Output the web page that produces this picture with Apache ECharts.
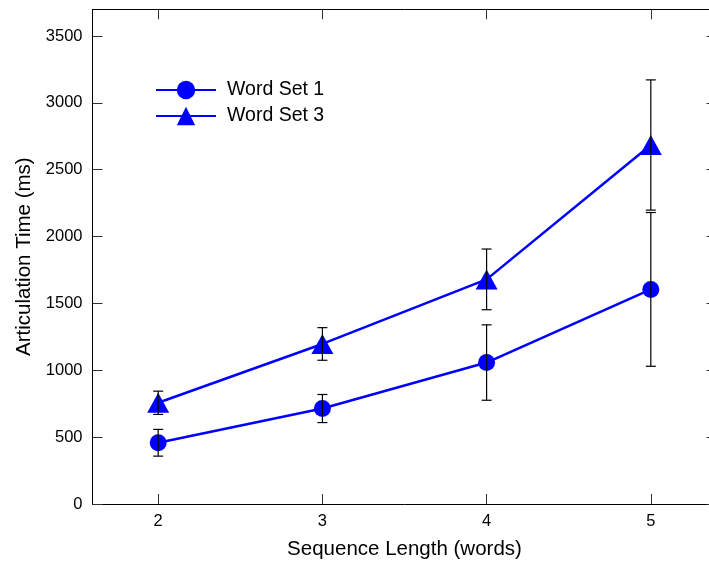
<!DOCTYPE html>
<html>
<head>
<meta charset="utf-8">
<script src="https://cdn.jsdelivr.net/npm/echarts@6/dist/echarts.min.js"></script>
<style>
  html, body { margin: 0; padding: 0; background: #fff; overflow: hidden; }
  #chart { width: 720px; height: 565px; }
</style>
</head>
<body>
<div id="chart"></div>
<script>
// Sequence lengths (words)
const seqLengths = [2, 3, 4, 5];
// Mean articulation time (ms) and error half-widths
const wordSet1 = [458, 714, 1058, 1605];
const wordSet1Err = [100, 105, 282, 575];
const wordSet3 = [757, 1197, 1680, 2685];
const wordSet3Err = [87, 122, 227, 487];
// Tick values
const xTicks = [2, 3, 4, 5];
const yTicks = [0, 500, 1000, 1500, 2000, 2500, 3000, 3500];

const FONT = '"Liberation Sans", Arial, sans-serif';
const BLUE = '#0000ff';

function pairs(xs, ys) { return xs.map((x, i) => [x, ys[i]]); }
function errRows(xs, ys, es) { return xs.map((x, i) => [x, ys[i] - es[i], ys[i] + es[i]]); }

function errorBarItem(params, api) {
  const x = api.value(0);
  const lo = api.coord([x, api.value(1)]);
  const hi = api.coord([x, api.value(2)]);
  const cap = 5;
  const style = { stroke: '#000', lineWidth: 1.2 };
  return {
    type: 'group',
    children: [
      { type: 'line', shape: { x1: lo[0], y1: lo[1], x2: hi[0], y2: hi[1] }, style },
      { type: 'line', shape: { x1: lo[0] - cap, y1: lo[1], x2: lo[0] + cap, y2: lo[1] }, style },
      { type: 'line', shape: { x1: hi[0] - cap, y1: hi[1], x2: hi[0] + cap, y2: hi[1] }, style }
    ]
  };
}

const axisLine = { show: true, onZero: false, lineStyle: { color: '#000', width: 1 } };
const tickStyle = { show: true, inside: true, length: 10, lineStyle: { color: '#333', width: 1 } };

const chart = echarts.init(document.getElementById('chart'), null, { renderer: 'canvas' });
chart.setOption({
  animation: false,
  backgroundColor: '#fff',
  // the frame's right side sits just past the visible area
  grid: { left: 92.5, right: 3.5, top: 9.3, bottom: 60.3, containLabel: false },
  legend: {
    orient: 'vertical',
    left: 155,
    top: 80,
    padding: 0,
    itemWidth: 60,
    itemHeight: 23,
    itemGap: 6,
    data: ['Word Set 1', 'Word Set 3'],
    textStyle: { fontFamily: FONT, fontSize: 19.5, color: '#000', padding: [0, 0, 0, 6] }
  },
  xAxis: [
    {
      type: 'value', min: 1.6, max: 5.4, position: 'bottom',
      name: 'Sequence Length (words)', nameLocation: 'middle', nameGap: 35,
      nameTextStyle: { fontFamily: FONT, fontSize: 20.5, color: '#000' },
      axisLine,
      axisTick: Object.assign({ customValues: xTicks }, tickStyle),
      axisLabel: { customValues: xTicks, margin: 9, fontFamily: FONT, fontSize: 16.5, color: '#000' },
      splitLine: { show: false }
    },
    {
      type: 'value', min: 1.6, max: 5.4, position: 'top',
      axisLine,
      axisTick: Object.assign({ customValues: xTicks }, tickStyle),
      axisLabel: { show: false },
      splitLine: { show: false }
    }
  ],
  yAxis: [
    {
      type: 'value', min: 0, max: 3700, position: 'left',
      name: 'Articulation Time (ms)', nameLocation: 'middle', nameGap: 58,
      nameTextStyle: { fontFamily: FONT, fontSize: 20.5, color: '#000' },
      axisLine,
      axisTick: Object.assign({ customValues: yTicks }, tickStyle),
      axisLabel: {
        customValues: yTicks, margin: 10, fontFamily: FONT, fontSize: 16.5, color: '#000',
        formatter: v => String(v)
      },
      splitLine: { show: false }
    },
    {
      type: 'value', min: 0, max: 3700, position: 'right',
      axisLine,
      axisTick: Object.assign({ customValues: yTicks }, tickStyle),
      axisLabel: { show: false },
      splitLine: { show: false }
    }
  ],
  series: [
    {
      name: 'Word Set 1', type: 'line', data: pairs(seqLengths, wordSet1),
      symbol: 'circle', symbolSize: 17,
      lineStyle: { color: BLUE, width: 2.5 }, itemStyle: { color: BLUE },
      z: 3
    },
    {
      name: 'Word Set 3', type: 'line', data: pairs(seqLengths, wordSet3),
      symbol: 'triangle', symbolSize: [22, 20],
      lineStyle: { color: BLUE, width: 2.5 }, itemStyle: { color: BLUE },
      z: 3
    },
    {
      type: 'custom', renderItem: errorBarItem, data: errRows(seqLengths, wordSet1, wordSet1Err),
      encode: { x: 0, y: [1, 2] }, z: 5, silent: true
    },
    {
      type: 'custom', renderItem: errorBarItem, data: errRows(seqLengths, wordSet3, wordSet3Err),
      encode: { x: 0, y: [1, 2] }, z: 5, silent: true
    }
  ]
});
</script>
</body>
</html>
